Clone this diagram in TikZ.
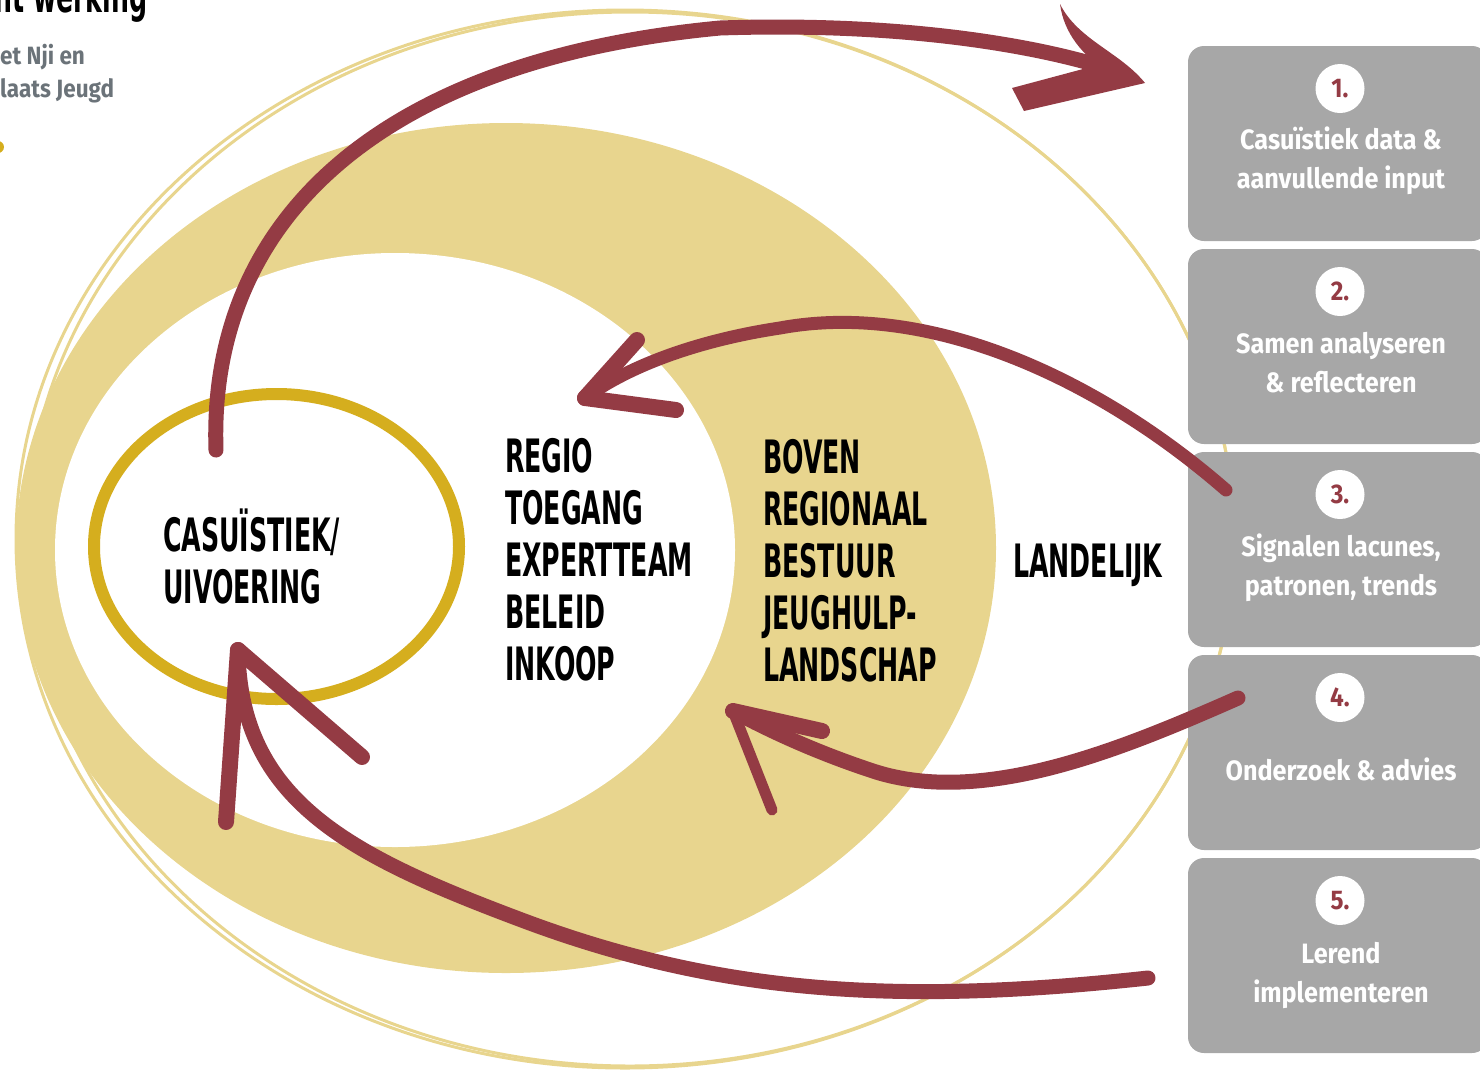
\documentclass[tikz,border=0pt]{standalone}
\usepackage{fontspec}
\newfontfamily\capsfont[FakeStretch=0.61]{DejaVu Sans Condensed}
\newfontfamily\handfont[FakeStretch=0.9]{Fira Sans}
\definecolor{wine}{HTML}{943B44}
\definecolor{sand}{HTML}{E8D58E}
\definecolor{ochre}{HTML}{D5AE1E}
\definecolor{panelgrey}{HTML}{A7A7A7}
\definecolor{slate}{HTML}{6B7379}
\tikzset{
  level/.style={font=\capsfont\bfseries\fontsize{46}{52}\selectfont, align=left, anchor=base west, inner sep=0pt},
  panel/.style={fill=panelgrey, rounded corners=16pt, minimum width=300pt, minimum height=195pt, inner sep=0pt},
  numdisc/.style={circle, fill=white, minimum size=49pt, inner sep=0pt, text=wine, font=\handfont\bfseries\fontsize{27}{27}\selectfont},
  paneltext/.style={align=center, text=white, inner sep=0pt, font=\handfont\bfseries\fontsize{28}{39}\selectfont},
  shaft/.style={draw=wine, line width=15pt, line cap=round},
  barb/.style={draw=wine, line width=16pt, line cap=round}
}
\begin{document}
\begin{tikzpicture}[x=1pt,y=-1pt]
\useasboundingbox (0,0) rectangle (1480,1072);
\clip (0,0) rectangle (1480,1072);
% header, cut off at the page edge
\node[anchor=base west, inner sep=0pt, font=\capsfont\bfseries\fontsize{46}{46}\selectfont] (title) at (-6,12) {nt werking};
\node[anchor=base west, inner sep=0pt, text=slate, font=\handfont\bfseries\fontsize{25}{25}\selectfont] (credit1) at (0,64) {et Nji en};
\node[anchor=base west, inner sep=0pt, text=slate, font=\handfont\bfseries\fontsize{25}{25}\selectfont] (credit2) at (0,97) {laats Jeugd};
\fill[ochre] (-2,147) circle (6);
% outer rings
\draw[sand, line width=3pt] (625,539) ellipse [x radius=609, y radius=529];
\draw[sand, line width=3pt] (630,539) ellipse [x radius=604, y radius=527];
\fill[sand] (506,548) ellipse [x radius=490, y radius=425];
\fill[white] (395,550) ellipse [x radius=340, y radius=297];
\draw[ochre, line width=12pt] (276.5,546.5) ellipse [x radius=182.5, y radius=152.5];
% levels (anchored on the last line)
\node[level] (casus) at (163,603) {CASUÏSTIEK/\\UIVOERING};
\node[level] (regio) at (505,680) {REGIO\\TOEGANG\\EXPERTTEAM\\BELEID\\INKOOP};
\node[level] (boven) at (763,681) {BOVEN\\REGIONAAL\\BESTUUR\\JEUGHULP-\\LANDSCHAP};
\node[level] (landelijk) at (1013,577) {LANDELIJK};
% steps
\foreach \i/\y/\dy/\txt in {
  1/143.5/17/{Casuïstiek data \&\\aanvullende input},
  2/346.5/16/{Samen analyseren\\\& reflecteren},
  3/549.5/18/{Signalen lacunes,\\patronen, trends},
  4/752.5/17/{Onderzoek \& advies},
  5/955.5/20/{Lerend\\implementeren}} {
  \node[panel] (box\i) at (1338,\y) {};
  \node[numdisc] (num\i) at (1340,\y-55) {\i.};
  \node[paneltext] (label\i) at (1341,\y+\dy) {\txt};
}
% arrow casus -> 1
\coordinate (aTail) at (216,450);
\coordinate (aJoin) at (1100,66);
\draw[shaft] (aTail) .. controls (208,220) and (380,60) .. (720,28) .. controls (900,22) and (1030,45) .. (aJoin);
\fill[wine] (1060,4) .. controls (1078,40) and (1120,52) .. (1145,83) -- (1024,111) -- (1012,88) -- (1098,65) .. controls (1085,55) and (1064,35) .. cycle;
% arrow 3 -> regio
\coordinate (bTail) at (1226,490);
\coordinate (bTip) at (585,398);
\draw[shaft, line width=13pt] (bTail) .. controls (1100,380) and (930,300) .. (780,328) .. controls (700,340) and (630,365) .. (bTip);
\draw[barb] (bTip) -- (637,340);
\draw[barb] (bTip) -- (676,410);
% arrow 4 -> boven
\coordinate (cTail) at (1238,698);
\coordinate (cTip) at (733,711);
\draw[shaft] (cTail) .. controls (1120,750) and (980,808) .. (870,770) .. controls (810,750) and (765,728) .. (cTip);
\draw[barb] (cTip) -- (822,731);
\draw[barb, line width=11pt] (cTip) -- (772,810);
% arrow 5 -> casus
\coordinate (dTail) at (1148,978);
\coordinate (dTip) at (238,650);
\draw[shaft] (dTail) .. controls (900,1005) and (720,995) .. (519,919) .. controls (349,855) and (240,800) .. (dTip);
\draw[barb] (dTip) -- (226,822);
\draw[barb] (dTip) -- (362,757);
\end{tikzpicture}
\end{document}
